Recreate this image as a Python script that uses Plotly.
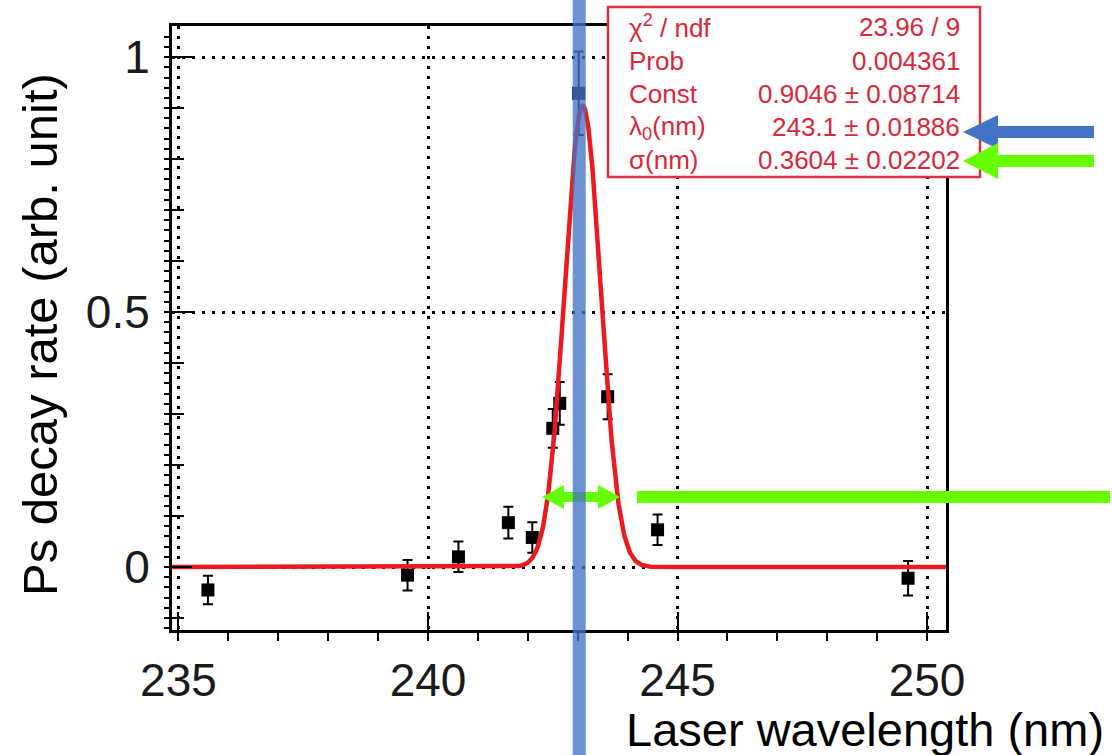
import numpy as np
import plotly.graph_objects as go

# Measured Ps decay rate versus laser wavelength
wavelength_nm = [235.59, 239.59, 240.61, 241.61, 242.09, 242.50, 242.64, 243.02, 243.60, 244.60, 249.62]
decay_rate = [-0.045, -0.016, 0.020, 0.087, 0.058, 0.272, 0.321, 0.929, 0.334, 0.073, -0.022]
rate_error = [0.028, 0.030, 0.030, 0.031, 0.030, 0.038, 0.042, 0.082, 0.044, 0.030, 0.034]

# Gaussian fit result
fit_const = 0.9046
fit_lambda0 = 243.1
fit_sigma = 0.3604

stats_names = ["χ<sup>2</sup> / ndf", "Prob", "Const", "λ<sub>0</sub>(nm)", "σ(nm)"]
stats_values = ["23.96 / 9", "0.004361", "0.9046 ± 0.08714", "243.1 ± 0.01886", "0.3604 ± 0.02202"]

x_range = [234.87, 250.38]
y_range = [-0.1235, 1.061]
peak_marker_x = 243.03

FONT = "Liberation Sans, Arial, Helvetica, sans-serif"
W, H = 1112, 755
PL, PR, PT, PB = 172, 946, 26, 630   # plot-area edges in pixels


def px(xp):
    return (xp - PL) / (PR - PL)


def py(yp):
    return (PB - yp) / (PB - PT)


def poly_path(points):
    pts = [f"{px(x):.5f},{py(y):.5f}" for x, y in points]
    return "M " + " L ".join(pts) + " Z"


def left_arrow(tip_x, y, head_len, head_half, shaft_half, end_x):
    bx = tip_x + head_len
    return poly_path([
        (tip_x, y), (bx, y - head_half), (bx, y - shaft_half), (end_x, y - shaft_half),
        (end_x, y + shaft_half), (bx, y + shaft_half), (bx, y + head_half),
    ])


def double_arrow(x0, x1, y, head_len, head_half, shaft_half):
    a, b = x0 + head_len, x1 - head_len
    return poly_path([
        (x0, y), (a, y - head_half), (a, y - shaft_half), (b, y - shaft_half),
        (b, y - head_half), (x1, y), (b, y + head_half), (b, y + shaft_half),
        (a, y + shaft_half), (a, y + head_half),
    ])


fit_x = np.linspace(x_range[0], x_range[1], 1200)
fit_y = fit_const * np.exp(-0.5 * ((fit_x - fit_lambda0) / fit_sigma) ** 2)

fig = go.Figure()

fig.add_trace(go.Scatter(
    x=wavelength_nm, y=decay_rate, mode="markers",
    marker=dict(symbol="square", size=13, color="black"),
    error_y=dict(type="data", array=rate_error, color="black", thickness=2, width=5),
))
fig.add_trace(go.Scatter(
    x=fit_x, y=fit_y, mode="lines",
    line=dict(color="#EA1A1F", width=4.5),
))
# carries the medium tick marks on the y axis (point lies outside the visible range)
fig.add_trace(go.Scatter(
    x=[x_range[0]], y=[y_range[0] - 1], yaxis="y2", mode="markers",
    marker=dict(size=1, color="rgba(0,0,0,0)"), hoverinfo="skip",
))

axis_common = dict(
    showline=True, linecolor="black", linewidth=3, mirror=True,
    ticks="inside", tickcolor="black", tickwidth=2,
    showgrid=True, gridcolor="black", gridwidth=2.5, griddash="3px,7px",
    zeroline=False,
    tickfont=dict(family=FONT, size=46, color="#1a1a1a"),
)

fig.update_layout(
    width=W, height=H,
    margin=dict(l=PL, r=W - PR, t=PT, b=H - PB),
    plot_bgcolor="white", paper_bgcolor="white",
    showlegend=False,
    xaxis=dict(
        range=x_range, tick0=235, dtick=5, ticklen=18,
        minor=dict(dtick=1, tick0=235, ticklen=8, tickwidth=2, tickcolor="black", showgrid=False),
        ticklabelstandoff=8,
        **axis_common,
    ),
    yaxis=dict(
        range=y_range, tick0=0, dtick=0.5, ticklen=20,
        minor=dict(dtick=0.02, tick0=0, ticklen=5, tickwidth=2, tickcolor="black", showgrid=False),
        ticklabelstandoff=10,
        **axis_common,
    ),
    yaxis2=dict(
        range=y_range, overlaying="y", side="left", tick0=0, dtick=0.1,
        ticks="inside", ticklen=12, tickwidth=2, tickcolor="black",
        showticklabels=False, showgrid=False, showline=False, zeroline=False,
    ),
)

shapes = []
# statistics box
shapes.append(dict(
    type="rect", xref="paper", yref="paper",
    x0=px(608), x1=px(980), y0=py(177), y1=py(7),
    fillcolor="white", line=dict(color="#D8323E", width=2.5), layer="above",
))
# width marker across the peak
shapes.append(dict(
    type="path", xref="paper", yref="paper",
    path=double_arrow(542, 620, 497, 22, 12, 5),
    fillcolor="#66FF00", line=dict(width=0), layer="above",
))
shapes.append(dict(
    type="rect", xref="paper", yref="paper",
    x0=px(637), x1=px(1110), y0=py(503), y1=py(491),
    fillcolor="#66FF00", line=dict(width=0), layer="above",
))
# pointers to the fitted centre and width
shapes.append(dict(
    type="path", xref="paper", yref="paper",
    path=left_arrow(963, 132, 35, 17, 6, 1094),
    fillcolor="#4472C4", line=dict(width=0), layer="above",
))
shapes.append(dict(
    type="path", xref="paper", yref="paper",
    path=left_arrow(963, 161, 35, 18, 6, 1094),
    fillcolor="#66FF00", line=dict(width=0), layer="above",
))
# vertical line at the peak position
shapes.append(dict(
    type="line", xref="x", yref="paper",
    x0=peak_marker_x, x1=peak_marker_x, y0=py(H + 5), y1=py(-5),
    line=dict(color="rgba(68,114,196,0.78)", width=13), layer="above",
))
fig.update_layout(shapes=shapes)

annotations = []
stat_color = "#D8283A"
row_centres = [27, 61, 94, 127, 160]
for name, value, yc in zip(stats_names, stats_values, row_centres):
    annotations.append(dict(
        x=px(627), y=py(yc), xref="paper", yref="paper", xanchor="left", yanchor="middle",
        text=name, showarrow=False, font=dict(family=FONT, size=26, color=stat_color),
    ))
    annotations.append(dict(
        x=px(962), y=py(yc), xref="paper", yref="paper", xanchor="right", yanchor="middle",
        text=value, showarrow=False, font=dict(family=FONT, size=26, color=stat_color),
    ))

annotations.append(dict(
    x=px(1106), y=py(729), xref="paper", yref="paper", xanchor="right", yanchor="middle",
    text="Laser wavelength (nm)", showarrow=False,
    font=dict(family=FONT, size=47, color="black"),
))
annotations.append(dict(
    x=px(40), y=py(335), xref="paper", yref="paper", xanchor="center", yanchor="middle",
    text="Ps decay rate (arb. unit)", showarrow=False, textangle=-90,
    font=dict(family=FONT, size=49, color="black"),
))
fig.update_layout(annotations=annotations)

fig.write_html("out.html")
